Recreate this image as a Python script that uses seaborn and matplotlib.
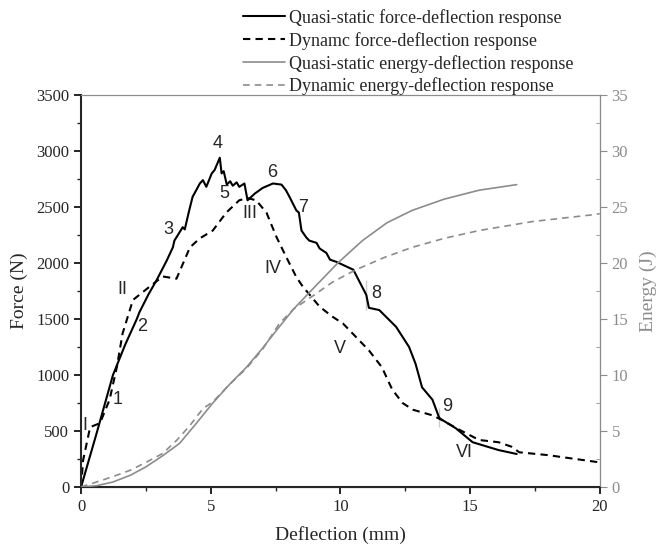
import numpy as np
import pandas as pd
import matplotlib
matplotlib.use("Agg")
import matplotlib.pyplot as plt
import seaborn as sns

# quasi-static force-deflection (mm, N)
qs_force_x = [0.0, 0.6, 1.23, 1.7, 2.15, 2.25, 2.6, 2.92, 3.3, 3.54, 3.6, 3.92, 4.0, 4.15, 4.3, 4.58,
              4.7, 4.83, 5.04, 5.15, 5.35, 5.42, 5.5, 5.62, 5.75, 5.85, 6.0, 6.1, 6.3, 6.42, 6.7,
              7.0, 7.4, 7.73, 7.9, 8.04, 8.3, 8.4, 8.5, 8.68, 8.8, 9.08, 9.2, 9.46, 9.6, 9.85,
              10.5, 11.0, 11.0, 11.1, 11.5, 12.15, 12.65, 12.9, 13.15, 13.55, 13.8, 13.8, 13.85,
              14.45, 15.1, 16.1, 16.8]
qs_force_y = [0, 480, 1000, 1270, 1500, 1560, 1720, 1850, 2020, 2140, 2200, 2320, 2300, 2450, 2590,
              2710, 2740, 2680, 2800, 2830, 2940, 2800, 2820, 2700, 2730, 2690, 2720, 2680, 2710, 2560,
              2620, 2670, 2710, 2700, 2650, 2590, 2470, 2450, 2290, 2230, 2200, 2180, 2130, 2090, 2030,
              2010, 1940, 1850, 1580, 1600, 1580, 1430, 1250, 1100, 890, 780, 710, 540, 610,
              525, 400, 330, 295]

# dynamic force-deflection (mm, N)
dyn_force_x = [0.0, 0.08, 0.35, 0.73, 1.1, 1.38, 1.6, 1.88, 2.0, 2.65, 3.15, 3.68, 4.2, 4.58, 5.08,
               5.6, 6.1, 6.42, 6.75, 7.15, 7.54, 7.92, 8.3, 8.55, 9.2, 9.7, 10.1, 10.6, 11.1, 11.6,
               12.0, 12.4, 12.8, 13.55, 13.9, 14.6, 15.35, 16.1, 16.6, 16.9, 18.0, 20.0]
dyn_force_y = [0, 240, 535, 570, 780, 1070, 1370, 1580, 1670, 1790, 1880, 1860, 2140, 2220, 2290,
               2450, 2560, 2580, 2560, 2450, 2230, 2050, 1875, 1790, 1610, 1520, 1460, 1340, 1220, 1070,
               870, 750, 690, 640, 600, 510, 420, 400, 360, 310, 285, 220]

# quasi-static energy-deflection (mm, J)
qs_energy_x = [0.0, 0.6, 1.23, 1.9, 2.5, 3.15, 3.8, 4.45, 5.08, 5.7, 6.38, 7.0, 7.54, 8.2, 8.9, 9.9,
               10.85, 11.8, 12.77, 14.0, 15.35, 16.8]
qs_energy_y = [0.0, 0.12, 0.45, 1.05, 1.8, 2.8, 3.9, 5.7, 7.5, 9.1, 10.7, 12.4, 14.0, 15.9, 17.6, 20.0,
               22.0, 23.6, 24.7, 25.7, 26.5, 27.0]

# dynamic energy-deflection (mm, J)
dyn_energy_x = [0.0, 0.6, 1.25, 1.9, 2.5, 3.15, 3.7, 4.2, 4.7, 5.08, 5.7, 6.38, 7.0, 7.65, 8.2, 8.9,
                9.7, 10.6, 11.7, 12.77, 14.0, 15.35, 17.4, 19.7, 20.0]
dyn_energy_y = [0.0, 0.45, 0.95, 1.5, 2.2, 3.0, 4.2, 5.5, 7.0, 7.6, 9.1, 10.6, 12.3, 14.6, 15.9, 17.0,
                18.3, 19.4, 20.5, 21.4, 22.2, 22.9, 23.7, 24.3, 24.4]

# event labels on the curves
labels = ["I", "1", "2", "II", "3", "4", "5", "III", "6", "7", "IV", "8", "V", "9", "VI"]
label_x = [0.15, 1.42, 2.35, 1.58, 3.36, 5.28, 5.54, 6.5, 7.38, 8.55, 7.4, 11.38, 10.0, 14.1, 14.8]
label_y = [550, 780, 1430, 1760, 2300, 3070, 2620, 2440, 2810, 2500, 1950, 1730, 1240, 715, 310]

sns.set_style("ticks")
plt.rcParams["font.family"] = ["Liberation Serif", "DejaVu Serif"]
plt.rcParams["xtick.direction"] = "out"
plt.rcParams["ytick.direction"] = "out"

gray = "#8c8c8c"

fig = plt.figure(figsize=(6.59, 5.46), dpi=100)
ax = fig.add_axes([0.123, 0.108, 0.787, 0.718])
ax2 = ax.twinx()

sns.lineplot(x=qs_force_x, y=qs_force_y, ax=ax, color="black", lw=1.5, sort=False,
             label="Quasi-static force-deflection response", legend=False)
sns.lineplot(x=dyn_force_x, y=dyn_force_y, ax=ax, color="black", lw=1.5, sort=False,
             linestyle=(0, (3.5, 2.5)), label="Dynamc force-deflection response", legend=False)
sns.lineplot(x=qs_energy_x, y=qs_energy_y, ax=ax2, color=gray, lw=1.2, sort=False,
             label="Quasi-static energy-deflection response", legend=False)
sns.lineplot(x=dyn_energy_x, y=dyn_energy_y, ax=ax2, color=gray, lw=1.2, sort=False,
             linestyle=(0, (4, 3)), label="Dynamic energy-deflection response", legend=False)

for t, lx, ly in zip(labels, label_x, label_y):
    ax.text(lx, ly, t, fontsize=13, family="Liberation Sans", ha="center", va="center")

ax.set_xlim(0, 20)
ax.set_ylim(0, 3500)
ax2.set_ylim(0, 35)
ax.set_xticks([0, 5, 10, 15, 20])
ax.set_xticks([2.5, 7.5, 12.5, 17.5], minor=True)
ax.set_yticks(range(0, 3501, 500))
ax.set_yticks(range(250, 3500, 500), minor=True)
ax2.set_yticks(range(0, 36, 5))
ax2.set_yticks(np.arange(2.5, 35, 5), minor=True)

ax.tick_params(axis="both", which="major", labelsize=12, length=5, width=1.2, color="black")
ax.tick_params(axis="both", which="minor", length=3, width=1)
ax2.tick_params(axis="y", which="major", labelsize=12, length=5, colors=gray)
ax2.tick_params(axis="y", which="minor", length=3, color=gray, direction="in")

for a in (ax, ax2):
    a.spines["top"].set_visible(True)
    a.spines["right"].set_visible(True)
    a.spines["top"].set_color(gray)
ax.spines["left"].set_linewidth(1.5)
ax.spines["bottom"].set_linewidth(1.5)
ax2.spines["right"].set_color(gray)
ax2.spines["left"].set_visible(False)

ax.set_xlabel("Deflection (mm)", fontsize=14, labelpad=8)
ax.set_ylabel("Force (N)", fontsize=14, labelpad=6)
ax2.set_ylabel("Energy (J)", fontsize=14, color=gray, labelpad=8)

h1, l1 = ax.get_legend_handles_labels()
h2, l2 = ax2.get_legend_handles_labels()
fig.legend(h1 + h2, l1 + l2, loc="upper left", bbox_to_anchor=(0.35, 1.007), frameon=False,
           fontsize=13, handlelength=2.3, handletextpad=0.25, labelspacing=0.28, borderaxespad=0.3)

fig.savefig("out.png", dpi=100)
